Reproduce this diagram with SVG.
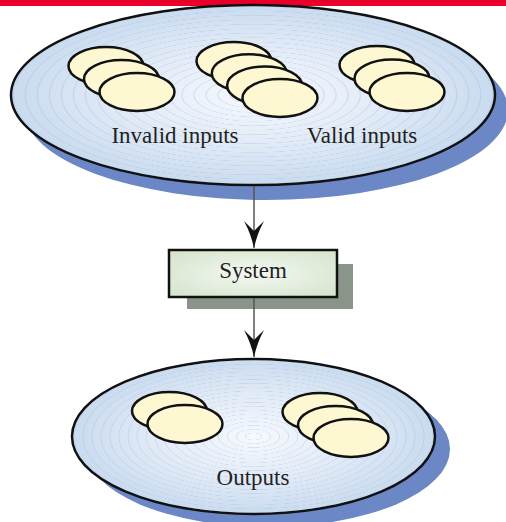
<svg xmlns="http://www.w3.org/2000/svg" width="506" height="522" viewBox="0 0 506 522">
<defs>
<radialGradient id="plate" cx="0.5" cy="0.5" r="0.5">
<stop offset="0" stop-color="#f6f9fe"/>
<stop offset="0.6" stop-color="#dfe9f6"/>
<stop offset="1" stop-color="#c9dbef"/>
</radialGradient>
<radialGradient id="rings" cx="0.5" cy="0.5" r="0.025" spreadMethod="repeat">
<stop offset="0" stop-color="#9fb6d6" stop-opacity="0"/>
<stop offset="0.8" stop-color="#9fb6d6" stop-opacity="0"/>
<stop offset="0.9" stop-color="#9fb6d6" stop-opacity="0.35"/>
<stop offset="1" stop-color="#9fb6d6" stop-opacity="0"/>
</radialGradient>
<radialGradient id="boxfill" cx="0.5" cy="0.5" r="0.6">
<stop offset="0" stop-color="#f4f8f1"/>
<stop offset="1" stop-color="#d8e6d0"/>
</radialGradient>
<marker id="arrow" markerUnits="userSpaceOnUse" markerWidth="30" markerHeight="24" viewBox="-28 -12 30 24" refX="0" refY="0" orient="auto">
<path d="M0,0 Q-14,-3 -27,-10 Q-20,-3 -17,0 Q-20,3 -27,10 Q-14,3 0,0 Z" fill="#111"/>
</marker>
<style>
.shadow{fill:#6b87c5}
.plate{fill:url(#plate);stroke:#111;stroke-width:2.5}
.ring{fill:url(#rings);stroke:none}
.disk{fill:#fdf8d2;stroke:#111;stroke-width:2.5}
.lbl{font-family:"Liberation Serif","Times New Roman",serif;fill:#222;text-anchor:middle;font-size:23px}
.conn{stroke:#555;stroke-width:1.5;fill:none}
</style>
</defs>
<rect x="0" y="0" width="506" height="6" fill="#e8002a"/>

<g id="inputs">
<ellipse class="shadow" cx="266" cy="110" rx="242" ry="90"/>
<ellipse class="plate" cx="253" cy="95" rx="242" ry="90"/>
<ellipse class="ring" cx="253" cy="95" rx="241" ry="89"/>
<g id="invalid-inputs">
<ellipse class="disk" cx="106" cy="66" rx="37.5" ry="19"/>
<ellipse class="disk" cx="121.5" cy="79" rx="37.5" ry="19"/>
<ellipse class="disk" cx="137" cy="92" rx="37.5" ry="19"/>
</g>
<g id="middle-inputs">
<ellipse class="disk" cx="234" cy="61" rx="37.5" ry="19"/>
<ellipse class="disk" cx="249.3" cy="73.3" rx="37.5" ry="19"/>
<ellipse class="disk" cx="264.6" cy="85.6" rx="37.5" ry="19"/>
<ellipse class="disk" cx="280" cy="98" rx="37.5" ry="19"/>
</g>
<g id="valid-inputs">
<ellipse class="disk" cx="377" cy="65" rx="37.5" ry="19"/>
<ellipse class="disk" cx="392" cy="78.5" rx="37.5" ry="19"/>
<ellipse class="disk" cx="407" cy="92" rx="37.5" ry="19"/>
</g>
<text class="lbl" x="175" y="143">Invalid inputs</text>
<text class="lbl" x="362" y="143">Valid inputs</text>
</g>

<g id="system">
<rect x="187" y="264" width="166" height="45" fill="#8a9589"/>
<rect x="169" y="250" width="168" height="47" fill="url(#boxfill)" stroke="#111" stroke-width="2.5"/>
<text class="lbl" x="253" y="278">System</text>
</g>

<g id="outputs">
<ellipse class="shadow" cx="268" cy="449" rx="182" ry="78"/>
<ellipse class="plate" cx="253.5" cy="436.5" rx="181.5" ry="77.5"/>
<ellipse class="ring" cx="253.5" cy="436.5" rx="180.5" ry="76.5"/>
<g id="output-left">
<ellipse class="disk" cx="169.5" cy="411" rx="37.5" ry="19"/>
<ellipse class="disk" cx="185" cy="424" rx="37.5" ry="19"/>
</g>
<g id="output-right">
<ellipse class="disk" cx="320" cy="412" rx="37.5" ry="19"/>
<ellipse class="disk" cx="335.5" cy="425" rx="37.5" ry="19"/>
<ellipse class="disk" cx="351" cy="438" rx="37.5" ry="19"/>
</g>
<text class="lbl" x="253" y="485">Outputs</text>
</g>

<g id="connectors">
<line class="conn" x1="254" y1="186" x2="254" y2="248" marker-end="url(#arrow)"/>
<line class="conn" x1="254" y1="298" x2="254" y2="357" marker-end="url(#arrow)"/>
</g>
</svg>
